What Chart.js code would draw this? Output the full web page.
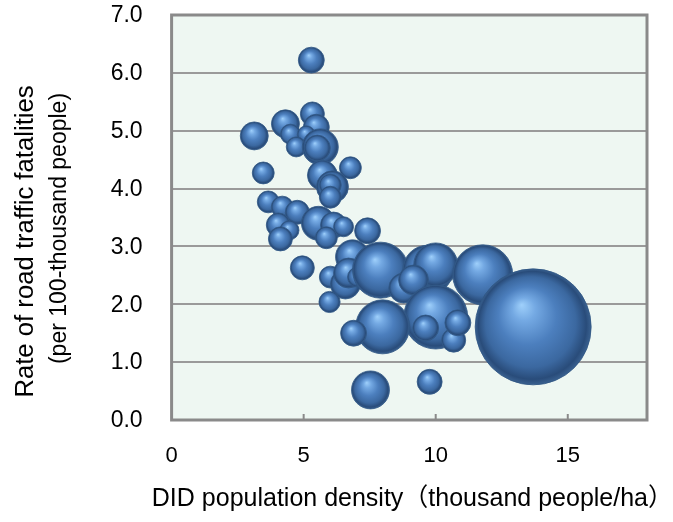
<!DOCTYPE html>
<html>
<head>
<meta charset="utf-8">
<script src="https://cdn.jsdelivr.net/npm/chart.js@4/dist/chart.umd.min.js"></script>
<style>
  html, body { margin: 0; padding: 0; background: #ffffff; }
  #wrap { width: 673px; height: 522px; }
</style>
</head>
<body>
<div id="wrap"><canvas id="bubbleChart"></canvas></div>
<script>
// DID population density (thousand people/ha) per prefecture
const density = [5.29, 5.33, 4.31, 3.13, 5.48, 4.50, 5.10, 4.72, 5.63, 5.52,
                 6.77, 3.47, 5.71, 6.09, 6.01, 6.01, 3.66, 4.19, 4.76, 5.56,
                 6.13, 6.51, 4.04, 4.46, 4.12, 5.86, 7.42, 4.95, 6.01, 6.58,
                 5.98, 6.85, 6.70, 7.04, 7.91, 9.70, 10.0, 8.79, 9.16, 10.0,
                 7.99, 6.89, 9.62, 10.68, 10.84, 11.78, 13.69, 7.53, 9.77];
// road traffic fatalities per 100-thousand people
const fatalities = [6.22, 5.29, 5.12, 4.91, 5.06, 4.94, 4.93, 4.72, 4.72, 4.70,
                    4.36, 4.27, 4.23, 4.03, 4.06, 3.85, 3.77, 3.68, 3.59, 3.40,
                    3.37, 3.34, 3.37, 3.28, 3.13, 3.15, 3.27, 2.63, 2.47, 2.35,
                    2.04, 2.82, 2.54, 2.47, 2.59, 2.59, 2.68, 2.28, 2.42, 1.78,
                    1.61, 1.50, 1.59, 1.38, 1.68, 2.51, 1.61, 0.52, 0.66];
// DID population (10-thousand people), drives the bubble area
const population = [42, 36, 49, 49, 42, 25, 20, 25, 81, 42,
                    30, 30, 56, 64, 30, 30, 30, 30, 36, 72,
                    42, 25, 36, 23, 36, 30, 42, 36, 30, 56,
                    28, 72, 56, 25, 196, 156, 121, 56, 56, 256,
                    182, 42, 42, 36, 42, 225, 841, 90, 39];

const xTicks = [0, 5, 10, 15];
const yTicks = [0, 1, 2, 3, 4, 5, 6, 7];

const FONT = "'Liberation Sans', Arial, 'Noto Sans CJK JP', sans-serif";

const points = density.map((d, i) => ({
  x: d,
  y: fatalities[i],
  r: 2 * Math.sqrt(population[i])
}));

// shaded sphere fill for each bubble
function sphereFill(context) {
  const chart = context.chart;
  const p = context.raw;
  if (!p || !chart.chartArea) return '#4a7cba';
  const cx = chart.scales.x.getPixelForValue(p.x);
  const cy = chart.scales.y.getPixelForValue(p.y);
  const r = p.r;
  const g = chart.ctx.createRadialGradient(cx - r * 0.2, cy - r * 0.38, 0, cx, cy, r);
  g.addColorStop(0, '#9fd0fb');
  g.addColorStop(0.2, '#74a9e3');
  g.addColorStop(0.5, '#4c7fbe');
  g.addColorStop(0.78, '#3b68a0');
  g.addColorStop(0.93, '#294c7a');
  g.addColorStop(1, '#3a6190');
  return g;
}

// mint plot background, grey frame and short inner ticks on the x axis
const plotFrame = {
  id: 'plotFrame',
  beforeDraw(chart) {
    const { ctx, chartArea: a } = chart;
    ctx.save();
    ctx.fillStyle = '#eef7f2';
    ctx.fillRect(a.left, a.top, a.width, a.height);
    ctx.restore();
  },
  beforeDatasetsDraw(chart) {
    const { ctx, chartArea: a, scales } = chart;
    ctx.save();
    ctx.strokeStyle = '#8a8a8a';
    ctx.lineWidth = 3;
    ctx.strokeRect(a.left, a.top, a.width, a.height);
    ctx.lineWidth = 2;
    xTicks.slice(1).forEach(v => {
      const px = scales.x.getPixelForValue(v);
      ctx.beginPath();
      ctx.moveTo(px, a.bottom);
      ctx.lineTo(px, a.bottom - 6);
      ctx.stroke();
    });
    ctx.restore();
  }
};

// blank axis used only to carry a title or to take up space
function blankAxis(extra) {
  return Object.assign({
    type: 'linear',
    position: 'left',
    min: 0,
    max: 1,
    grid: { display: false },
    border: { display: false },
    ticks: { display: false }
  }, extra);
}

new Chart(document.getElementById('bubbleChart'), {
  type: 'bubble',
  data: {
    datasets: [{
      data: points,
      backgroundColor: sphereFill,
      borderColor: '#2f5583',
      borderWidth: 0.8,
      hoverRadius: 0
    }]
  },
  options: {
    responsive: true,
    maintainAspectRatio: false,
    animation: false,
    events: [],
    layout: { autoPadding: false, padding: { top: 15, right: 0, left: 0, bottom: 0 } },
    plugins: {
      legend: { display: false },
      tooltip: { enabled: false },
      title: {
        display: true,
        position: 'bottom',
        align: 'end',
        text: 'DID population density（thousand people/ha）',
        color: '#000',
        font: { family: FONT, size: 25, weight: 'normal' },
        padding: { top: 0, bottom: 8 }
      }
    },
    scales: {
      x: {
        type: 'linear',
        min: 0,
        max: 18,
        afterBuildTicks: s => { s.ticks = xTicks.map(v => ({ value: v })); },
        afterFit: s => { s.height = 64; },
        grid: { display: false, drawTicks: false },
        border: { display: false },
        ticks: {
          padding: 23,
          maxRotation: 0,
          color: '#000',
          font: { family: FONT, size: 22 }
        }
      },
      y: {
        type: 'linear',
        min: 0,
        max: 7,
        weight: 0,
        afterBuildTicks: s => { s.ticks = yTicks.map(v => ({ value: v })); },
        afterFit: s => {
          s.width = 99.6;
          s.paddingTop = 0;
          s.paddingBottom = 0;
        },
        grid: { color: '#9a9a9a', lineWidth: 2, drawTicks: false },
        border: { display: false },
        ticks: {
          padding: 29,
          labelOffset: 1,
          color: '#000',
          font: { family: FONT, size: 23 },
          callback: v => v.toFixed(1)
        }
      },
      // outer column: main y title, sitting a little below centre
      yTitle: blankAxis({
        weight: 2, stack: 'outer', stackWeight: 357,
        afterFit: s => { s.width = 44; },
        title: {
          display: true,
          text: 'Rate of road traffic fatalities',
          color: '#000',
          font: { family: FONT, size: 25.7 },
          padding: { top: 10.5, bottom: 0 }
        }
      }),
      titleGap: blankAxis({
        weight: 2, stack: 'outer', stackWeight: 48,
        afterFit: s => { s.width = 44; }
      }),
      // inner column: unit line of the y title
      yUnit: blankAxis({
        weight: 1, stack: 'inner', stackWeight: 383,
        afterFit: s => { s.width = 28; },
        title: {
          display: true,
          text: '(per 100-thousand people)',
          color: '#000',
          font: { family: FONT, size: 23 },
          padding: { top: 2, bottom: 0 }
        }
      }),
      unitGap: blankAxis({
        weight: 1, stack: 'inner', stackWeight: 22,
        afterFit: s => { s.width = 28; }
      }),
      // empty strip that keeps the plot clear of the right edge
      yRight: blankAxis({
        position: 'right',
        afterFit: s => { s.width = 26; }
      })
    }
  },
  plugins: [plotFrame]
});
</script>
</body>
</html>
